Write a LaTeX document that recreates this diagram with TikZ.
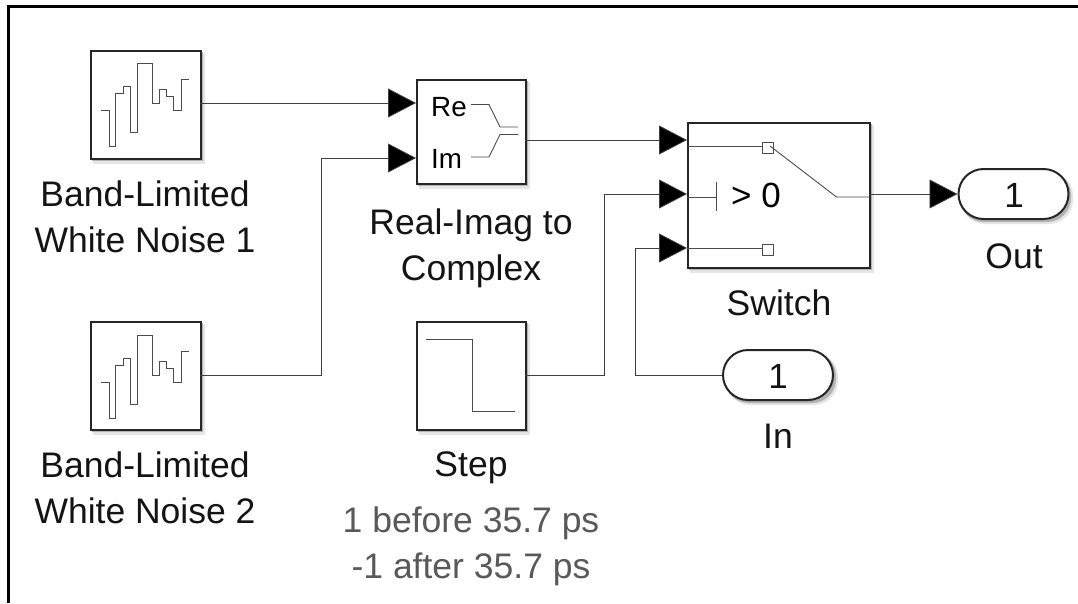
\documentclass[tikz,border=0pt]{standalone}
\usepackage{fontspec}
\setmainfont{Liberation Sans}
\usetikzlibrary{arrows.meta,shapes.misc}
\tikzset{
  x=1pt,y=-1pt,
  blockbox/.style={draw=black!85,line width=2pt,fill=white,inner sep=0pt,anchor=north west},
  portbox/.style={blockbox,rounded rectangle,rounded rectangle arc length=180,minimum width=110pt,minimum height=50pt,anchor=center},
  wire/.style={draw=black!75,line width=0.8pt,-{Triangle[length=28pt,width=29pt,fill=black]}},
  iconline/.style={draw=black!70,line width=0.9pt},
  caption/.style={font=\fontsize{35.5}{45.5}\selectfont,text=black!92,align=center,anchor=base},
  paramtext/.style={caption,text=black!65},
}
\begin{document}
\begin{tikzpicture}
\useasboundingbox (0,0) rectangle (1078,603);
\fill[white] (0,0) rectangle (1078,603);
\draw[black,line width=3pt] (8,603) -- (8,6.5) -- (1078,6.5);
% soft shadows
\foreach \a/\b/\c/\d in {90/50/200/158,90/321/200/429,416/79/525/183,416/321/525/429,687/122/869/267}{
  \fill[black!10] (\a+3,\b+3) rectangle (\c+5,\d+6);
  \fill[black!30] (\a+2,\b+2) rectangle (\c+3,\d+3);
}
\fill[black!10,rounded corners=24pt] (961,172) rectangle (1073,224);
\fill[black!30,rounded corners=24pt] (960,171) rectangle (1071,222);
\fill[black!10,rounded corners=24pt] (726,353) rectangle (838,405);
\fill[black!30,rounded corners=24pt] (725,352) rectangle (836,403);
% blocks
\node[blockbox,minimum width=110pt,minimum height=108pt] (wna) at (90,50) {};
\node[blockbox,minimum width=110pt,minimum height=108pt] (wnb) at (90,321) {};
\node[blockbox,minimum width=109pt,minimum height=104pt] (ri) at (416,79) {};
\node[blockbox,minimum width=109pt,minimum height=108pt] (stp) at (416,321) {};
\node[blockbox,minimum width=182pt,minimum height=145pt] (sw) at (687,122) {};
\node[portbox] (outp) at (1013.5,194) {};
\node[portbox] (inp) at (778,375) {};
% port coordinates
\coordinate (ria) at (416,103);
\coordinate (rib) at (416,158);
\coordinate (swa) at (687,140);
\coordinate (swb) at (687,194);
\coordinate (swc) at (687,248);
\coordinate (wnaout) at (200,103);
\coordinate (wnbout) at (200,375);
\coordinate (riout) at (525,140);
\coordinate (stpout) at (525,375);
\coordinate (swout) at (869,194);
\coordinate (inbend) at (635,375);
\coordinate (stpbend) at (604,375);
\coordinate (wnbend) at (321.5,375);
% connectors
\draw[wire] (wnaout) -- (ria);
\draw[wire] (wnbout) -- (wnbend) |- (rib);
\draw[wire] (riout) -- (swa);
\draw[wire] (stpout) -- (stpbend) |- (swb);
\draw[wire] (inp.west) -- (inbend) |- (swc);
\draw[wire] (swout) -- (outp.west);
% noise icons
\foreach \o in {0,272}{
  \draw[iconline,yshift=-\o pt] (101.4,110) -- (109.7,110) -- (109.7,146) -- (115.9,146) -- (115.9,93) -- (123.1,93) -- (123.1,86) -- (130.3,86) -- (130.3,132) -- (137.6,132) -- (137.6,63) -- (152,63) -- (152,103) -- (159.3,103) -- (159.3,89) -- (166.6,89) -- (166.6,96) -- (173.8,96) -- (173.8,110) -- (181,110) -- (181,79) -- (189.3,79);
}
% step icon
\draw[iconline] (426,339) -- (472,339) -- (472,411) -- (515,411);
% real-imag icon
\node[anchor=base west,inner sep=0pt,font=\fontsize{27.8}{27.8}\selectfont] (retxt) at (431,116) {Re};
\node[anchor=base west,inner sep=0pt,font=\fontsize{27.8}{27.8}\selectfont] (imtxt) at (431,168.5) {Im};
\draw[iconline] (471,104.5) -- (489,104.5) -- (500,127) -- (518,127);
\draw[iconline] (471,157) -- (489,157) -- (500,134.5) -- (518,134.5);
% switch icon
\draw[iconline] (687,146) -- (762,146);
\draw[iconline] (687,248) -- (762,248);
\draw[iconline,fill=white] (762,142.5) rectangle (773,153);
\draw[iconline,fill=white] (762,244) rectangle (773,255);
\draw[iconline] (687,197) -- (716,197);
\draw[iconline] (716,182) -- (716,211);
\draw[iconline] (770,146) -- (836.5,197) -- (869,197);
\node[anchor=base west,inner sep=0pt,font=\fontsize{35}{35}\selectfont] (gt) at (731,207) {> 0};
% port numbers
\node[caption,font=\fontsize{35}{35}\selectfont] (outnum) at (1014,207) {1};
\node[caption,font=\fontsize{35}{35}\selectfont] (innum) at (778,388) {1};
% captions
\node[caption] (capa) at (145,252) {Band-Limited\\White Noise 1};
\node[caption] (capb) at (145,523) {Band-Limited\\White Noise 2};
\node[caption] (capc) at (471,280) {Real-Imag to\\Complex};
\node[caption] (capd) at (471,476) {Step};
\node[paramtext] (capp) at (471,578) {1 before 35.7 ps\\-1 after 35.7 ps};
\node[caption] (cape) at (779,315) {Switch};
\node[caption] (capf) at (1014,268) {Out};
\node[caption] (capg) at (778,448) {In};
\end{tikzpicture}
\end{document}
